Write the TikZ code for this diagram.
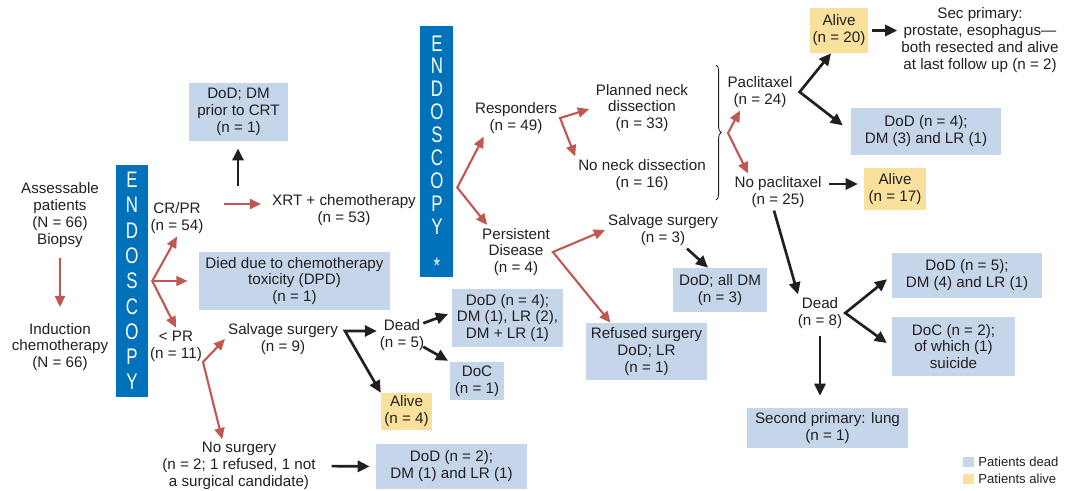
\documentclass[tikz,border=0pt]{standalone}
\usepackage{fontspec}
\setmainfont{Liberation Sans}
\newfontfamily\endofont[FakeStretch=0.75]{Liberation Sans}
\usepackage{xcolor}
\usepackage{tikz}
\usetikzlibrary{arrows.meta,positioning,calc,decorations.pathreplacing}
\definecolor{ink}{RGB}{35,31,32}
\definecolor{eblue}{RGB}{0,114,188}
\definecolor{pdead}{RGB}{197,214,235}
\definecolor{palive}{RGB}{249,224,155}
\definecolor{rline}{RGB}{194,86,80}
\tikzset{
  lbl/.style   ={align=center, inner sep=2pt, text=ink,
                 font=\fontsize{10.8}{12}\selectfont},
  dbox/.style  ={lbl, rectangle, fill=pdead, inner sep=0pt},
  abox/.style  ={dbox, fill=palive},
  endo/.style  ={rectangle, fill=eblue, inner sep=0pt},
  etxt/.style  ={align=center, inner sep=0pt, text=white,
                 font=\endofont\fontsize{16}{18}\selectfont},
  rar/.style   ={-{Triangle[length=2.8mm,width=2.5mm]}, draw=rline, line width=1.5pt},
  kar/.style   ={-{Triangle[length=3mm,width=2.8mm]}, draw=ink, line width=1.9pt},
  rar2/.style  ={rar, {Triangle[length=2.8mm,width=2.5mm]}-{Triangle[length=2.8mm,width=2.5mm]}},
  kar2/.style  ={kar, {Triangle[length=3mm,width=2.8mm]}-{Triangle[length=3mm,width=2.8mm]}},
  key/.style   ={rectangle, inner sep=0pt, minimum width=2.8mm, minimum height=2.5mm},
  keytxt/.style={inner sep=1pt, text=ink, font=\fontsize{9.3}{11}\selectfont}
}

\begin{document}
\begin{tikzpicture}[x=0.025cm, y=-0.025cm]
\path[use as bounding box] (0,0) rectangle (1071,491);

\node[endo, minimum width=0.8cm, minimum height=5.8cm] (endo1) at (132,281) {};
\node[etxt] at (endo1) {E\\N\\D\\O\\S\\C\\O\\P\\Y};
\node[endo, minimum width=0.825cm, minimum height=6.275cm] (endo2) at (436.5,151.5) {};
\node[etxt, font=\endofont\fontsize{16}{16.3}\selectfont] at (437,135) {E\\N\\D\\O\\S\\C\\O\\P\\Y};
\node[etxt] at (437,266) {*};

\node[lbl] (asp) at (60,215) {Assessable\\patients\\(N = 66)\\Biopsy};
\node[lbl] (ind) at (60,347) {Induction\\chemotherapy\\(N = 66)};
\node[lbl] (crpr) at (177,218) {CR/PR\\(n = 54)};
\node[lbl] (ltpr) at (176,346) {< PR\\(n = 11)};
\node[lbl] (xrt) at (344,210) {XRT + chemotherapy\\(n = 53)};
\node[lbl] (salv9) at (283,339) {Salvage surgery\\(n = 9)};
\node[lbl] (nosurg) at (239,466) {No surgery\\(n = 2; 1 refused, 1 not\\a surgical candidate)};
\node[lbl] (dead5) at (402,335) {Dead\\(n = 5)};
\node[lbl] (resp) at (516,118) {Responders\\(n = 49)};
\node[lbl] (pers) at (516,252) {Persistent\\Disease\\(n = 4)};
\node[lbl] (plan) at (642,108) {Planned neck\\dissection\\(n = 33)};
\node[lbl] (noneck) at (642,175) {No neck dissection\\(n = 16)};
\node[lbl] (salv3) at (663,230) {Salvage surgery\\(n = 3)};
\node[lbl] (pac) at (760,92) {Paclitaxel\\(n = 24)};
\node[lbl] (nopac) at (778,192) {No paclitaxel\\(n = 25)};
\node[lbl] (dead8) at (820,313) {Dead\\(n = 8)};
\node[lbl] (secp) at (980,40) {Sec primary:\\prostate, esophagus—\\both resected and alive\\at last follow up (n = 2)};

\node[dbox, minimum width=2.475cm, minimum height=1.45cm] (dodcrt) at (238.5,112) {DoD; DM\\prior to CRT\\(n = 1)};
\node[dbox, minimum width=4.775cm, minimum height=1.45cm] (died) at (294.5,281) {Died due to chemotherapy\\toxicity (DPD)\\(n = 1)};
\node[dbox, minimum width=2.775cm, minimum height=1.45cm] (dod4) at (507.5,318) {DoD (n = 4);\\DM (1), LR (2),\\DM + LR (1)};
\node[dbox, minimum width=1.35cm, minimum height=0.95cm] (doc1) at (477,381) {DoC\\(n = 1)};
\node[abox, minimum width=1.275cm, minimum height=0.925cm] (alive4) at (406.5,411.5) {Alive\\(n = 4)};
\node[dbox, minimum width=3.775cm, minimum height=1.125cm] (dod2) at (451.5,466.5) {DoD (n = 2);\\DM (1) and LR (1)};
\node[dbox, minimum width=3.025cm, minimum height=1.425cm] (refused) at (646.5,351.5) {Refused surgery\\DoD; LR\\(n = 1)};
\node[dbox, minimum width=2.35cm, minimum height=1.1cm] (alldm) at (720,290) {DoD; all DM\\(n = 3)};
\node[abox, minimum width=1.45cm, minimum height=1.125cm] (alive20) at (839,30.5) {Alive\\(n = 20)};
\node[dbox, minimum width=3.75cm, minimum height=1.175cm] (dod4b) at (926,131.5) {DoD (n = 4);\\DM (3) and LR (1)};
\node[abox, minimum width=1.55cm, minimum height=1.05cm] (alive17) at (895,189) {Alive\\(n = 17)};
\node[dbox, minimum width=3.75cm, minimum height=1.125cm] (dod5) at (967,275.5) {DoD (n = 5);\\DM (4) and LR (1)};
\node[dbox, minimum width=3.075cm, minimum height=1.475cm] (doc2) at (953.5,346.5) {DoC (n = 2);\\of which (1)\\suicide};
\node[dbox, minimum width=4.025cm, minimum height=1cm] (sec1) at (827.5,428) {Second primary: lung\\(n = 1)};

\node[key, fill=pdead] (kdead) at (968.5,462) {};
\node[keytxt, right=0.6mm of kdead] {Patients dead};
\node[key, fill=palive] (kalive) at (968.5,479) {};
\node[keytxt, right=0.6mm of kalive] {Patients alive};

\coordinate (e1v) at ([xshift=1mm]endo1.east);
\coordinate (e2v) at ([xshift=1mm,yshift=-0.9cm]endo2.east);
\coordinate (xa) at (224,204);
\coordinate (xb) at (238,186);
\coordinate (lv) at (203,362);
\coordinate (sv) at (345,331);
\coordinate (bv) at (728,133);

\draw[rar, shorten <=2mm, shorten >=3.2mm] (asp) -- (ind);
\draw[rar2] (crpr.south) -- (e1v) -- (ltpr.north);
\draw[rar, shorten >=2.8mm] (e1v) -- (died.west);
\draw[rar, shorten >=2mm] (xa) -- (xa -| xrt.west);
\draw[kar, shorten >=1.8mm] (xb) -- (xb |- dodcrt.south);
\draw[rar2] (salv9.west) -- (lv) -- ([xshift=-4.2mm]nosurg.north);
\draw[kar2] (sv -| dead5.west) -- (sv) -- (alive4.north west);
\draw[kar, shorten >=1mm] ([xshift=-1mm]dead5.25) -- ([yshift=1.3mm]dod4.west);
\draw[kar, shorten >=0.5mm] ([xshift=-1mm]dead5.-25) -- (doc1.north west);
\draw[kar, shorten <=3.2mm, shorten >=1.5mm] (nosurg.east) -- (dod2.west);

\draw[rar2] (resp.210) -- (e2v) -- ([xshift=2mm]pers.north west);
\draw[rar2, shorten <=1mm] (plan.west) -- (resp.east) -- (noneck.north west);
\draw[rar2] (salv3.west) -- (pers.east) -- ([xshift=-9mm]refused.north);
\draw[kar] ([xshift=6mm]salv3.south) -- ([xshift=-3mm]alldm.north);

\draw[ink, line width=0.6pt, decorate, decoration={brace, amplitude=1.3mm}] (716,65) -- (716,200);
\draw[rar2] ([xshift=-5mm]pac.south) -- (bv) -- ([xshift=-7.5mm]nopac.north);
\draw[kar2, shorten >=2.5mm] ([xshift=-2mm]alive20.south) -- ([xshift=1mm]pac.east) -- (dod4b.west);
\draw[kar, shorten <=1mm, shorten >=0.3mm] (alive20.east) -- (alive20.east -| secp.west);
\draw[kar, shorten <=1mm, shorten >=1.5mm] ([yshift=2mm]nopac.east) -- ([yshift=2mm]nopac.east -| alive17.west);
\draw[kar] ([xshift=-1mm]nopac.south) -- ([xshift=-5.5mm]dead8.north);
\draw[kar2, shorten <=1.5mm, shorten >=1.5mm] (dod5.west) -- (dead8.east) -- (doc2.west);
\draw[kar, shorten <=1mm, shorten >=3mm] (dead8.south) -- (dead8.south |- sec1.north);
\end{tikzpicture}
\end{document}
